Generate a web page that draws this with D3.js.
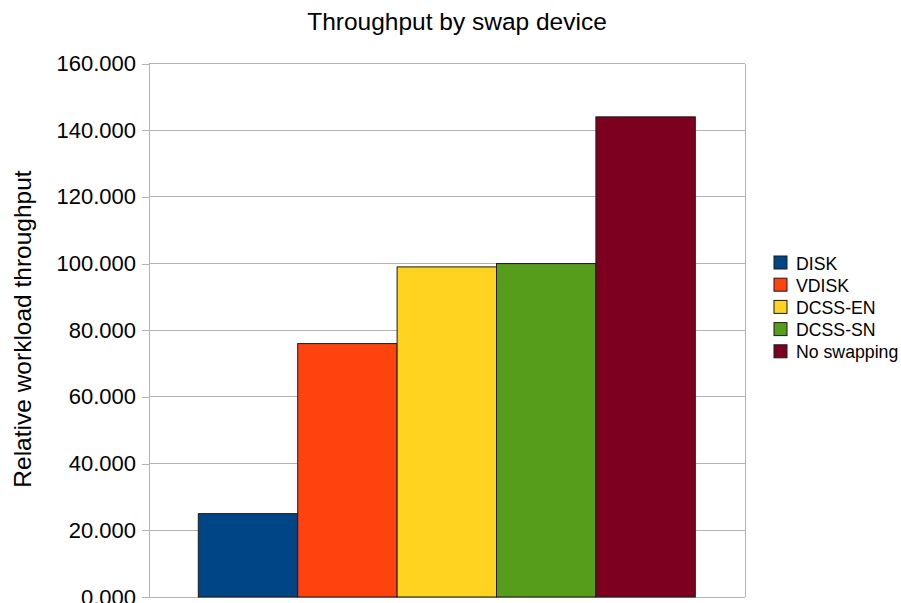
<!DOCTYPE html>
<html><head><meta charset="utf-8">
<script src="https://cdn.jsdelivr.net/npm/d3@7"></script>
<style>body{margin:0;background:#fff;}svg{display:block;font-family:"Liberation Sans",Arial,sans-serif;}</style>
</head><body>
<svg id="c" width="901" height="603"></svg>
<script>
const series = ["DISK","VDISK","DCSS-EN","DCSS-SN","No swapping"];
const values = [25, 76, 99, 100, 144];
const colors = ["#004586","#ff420e","#ffd320","#579d1c","#7e0021"];
const yTicks = [0,20,40,60,80,100,120,140,160];

const svg = d3.select("#c");
const L = 149, R = 745, T = 63.5, B = 597;
const y = d3.scaleLinear().domain([0,160]).range([B,T]);
const x = d3.scaleBand().domain(series).range([198.3, 695.3]).paddingInner(0).paddingOuter(0);

// gridlines
svg.append("g").selectAll("line").data(yTicks).join("line")
  .attr("x1", L).attr("x2", R).attr("y1", d=>y(d)).attr("y2", d=>y(d))
  .attr("stroke", "#b3b3b3").attr("stroke-width", 1).attr("shape-rendering","crispEdges");
// right border
svg.append("line").attr("x1",R).attr("x2",R).attr("y1",T).attr("y2",B)
  .attr("stroke","#b3b3b3").attr("shape-rendering","crispEdges");

// y axis
const yAxis = d3.axisLeft(y).tickValues(yTicks).tickSize(7).tickPadding(6)
  .tickFormat(d => d3.format(",.3f")(d));
const ga = svg.append("g").attr("transform", `translate(${L},0)`).call(yAxis);
ga.select(".domain").attr("stroke","#b3b3b3").attr("shape-rendering","crispEdges");
ga.selectAll(".tick line").attr("stroke","#b3b3b3").attr("shape-rendering","crispEdges");
ga.selectAll(".tick text").attr("font-size", 22).attr("fill","#000").attr("font-family",'"Liberation Sans",Arial,sans-serif');

// bars
svg.append("g").selectAll("rect").data(values).join("rect")
  .attr("x", (d,i)=>x(series[i])).attr("width", x.bandwidth())
  .attr("y", d=>y(d)).attr("height", d=>y(0)-y(d))
  .attr("fill", (d,i)=>colors[i]).attr("stroke","#1a1a1a").attr("stroke-width",1);

// title
svg.append("text").attr("x", 457).attr("y", 30).attr("text-anchor","middle")
  .attr("font-size", 24.5).text("Throughput by swap device");
// y title
svg.append("text").attr("transform","translate(31,329) rotate(-90)").attr("text-anchor","middle")
  .attr("font-size", 24.5).text("Relative workload throughput");

// legend
const lg = svg.append("g").attr("transform","translate(774,256)");
const items = lg.selectAll("g").data(series).join("g").attr("transform",(d,i)=>`translate(0,${i*22.2})`);
items.append("rect").attr("width",13).attr("height",13).attr("fill",(d,i)=>colors[i]).attr("stroke","#1a1a1a").attr("stroke-width",1);
items.append("text").attr("x",22).attr("y",13.5).attr("font-size",17.7).text(d=>d);
</script>
</body></html>
